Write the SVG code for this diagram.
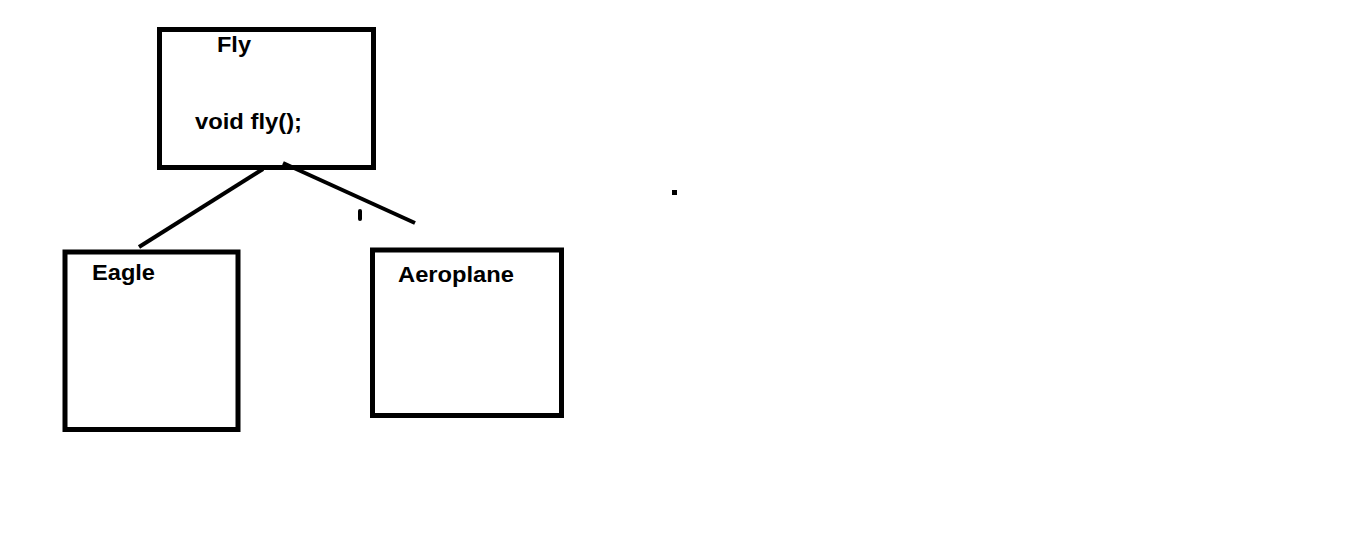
<svg xmlns="http://www.w3.org/2000/svg" width="1349" height="544" viewBox="0 0 1349 544">
<style>
.box{fill:none;stroke:#000;stroke-width:5}
.lbl{font-family:"Liberation Sans",Arial,sans-serif;font-weight:bold;font-size:22px;fill:#000}
.conn{stroke:#000;stroke-width:4;fill:none;stroke-linecap:butt}
</style>
<rect width="1349" height="544" fill="#fff"/>
<g id="fly">
<rect class="box" x="159.5" y="29.5" width="214" height="138"/>
<text class="lbl" x="217" y="52" textLength="34" lengthAdjust="spacingAndGlyphs">Fly</text>
<text class="lbl" x="195" y="129" textLength="107" lengthAdjust="spacingAndGlyphs">void fly();</text>
</g>
<g id="eagle">
<rect class="box" x="65" y="252" width="173" height="177.5"/>
<text class="lbl" x="92" y="280" textLength="63" lengthAdjust="spacingAndGlyphs">Eagle</text>
</g>
<g id="aeroplane">
<rect class="box" x="372.5" y="250" width="189" height="165.5"/>
<text class="lbl" x="398" y="282" textLength="116" lengthAdjust="spacingAndGlyphs">Aeroplane</text>
</g>
<g id="connectors">
<line class="conn" x1="263" y1="169" x2="139" y2="247"/>
<line class="conn" x1="283" y1="163" x2="415" y2="223"/>
<line x1="360" y1="211" x2="360" y2="219" stroke="#000" stroke-width="4" stroke-linecap="round"/>
<rect x="672" y="190" width="5" height="5" fill="#000"/>
</g>
</svg>
